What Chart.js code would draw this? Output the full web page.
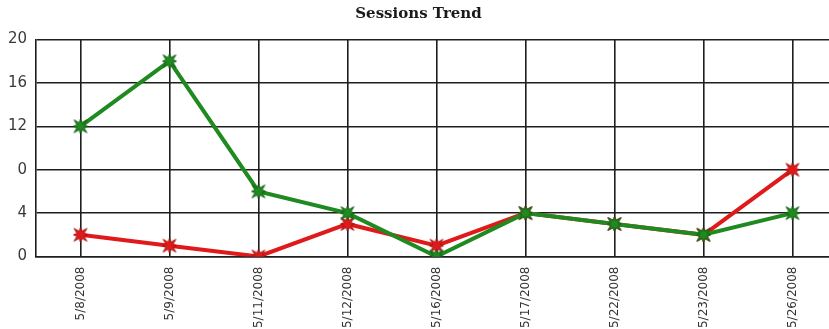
<!DOCTYPE html>
<html>
<head>
<meta charset="utf-8">
<title>Sessions Trend</title>
<script src="https://cdn.jsdelivr.net/npm/chart.js@4/dist/chart.umd.min.js"></script>
<style>
  html, body { margin: 0; padding: 0; overflow: hidden; background: #ffffff; }
  #wrap { position: relative; width: 858px; height: 329px; }
</style>
</head>
<body>
<div id="wrap"><canvas id="chart"></canvas></div>
<script>
// Session dates along the x axis
const categories = ['5/8/2008', '5/9/2008', '5/11/2008', '5/12/2008', '5/16/2008',
                    '5/17/2008', '5/22/2008', '5/23/2008', '5/26/2008'];

// Session counts per date
const greenSessions = [12, 18, 6, 4, 0, 4, 3, 2, 4];
const redSessions   = [2, 1, 0, 3, 1, 4, 3, 2, 8];

// Y axis ticks and the labels printed beside them
const yTickValues = [0, 4, 8, 12, 16, 20];
const yTickLabels = ['0', '4', '0', '12', '16', '20'];

const GREEN = '#1f8a1f';
const RED = '#e01a1a';

// Small filled star used as the point marker
function starMarker(fill, edge) {
  const size = 22;
  const c = document.createElement('canvas');
  c.width = size; c.height = size;
  const g = c.getContext('2d');
  const cx = size / 2, cy = size / 2;
  const spikes = 8;
  g.beginPath();
  for (let i = 0; i < spikes * 2; i++) {
    const a = (Math.PI / spikes) * i + Math.PI / 4;
    let r;
    if (i % 2 === 1) r = 3.8;
    else r = (i % 4 === 0) ? 9 : 7;
    const x = cx + Math.cos(a) * r, y = cy + Math.sin(a) * r;
    if (i === 0) g.moveTo(x, y); else g.lineTo(x, y);
  }
  g.closePath();
  g.fillStyle = fill;
  g.fill();
  g.lineWidth = 1;
  g.strokeStyle = edge;
  g.stroke();
  return c;
}

const gridColor = '#1e1e1e';

new Chart(document.getElementById('chart'), {
  type: 'line',
  data: {
    labels: categories,
    datasets: [
      {
        label: 'Green',
        data: greenSessions,
        borderColor: GREEN,
        backgroundColor: GREEN,
        borderWidth: 4,
        pointStyle: starMarker(GREEN, '#145f14'),
        pointRadius: 10,
        tension: 0
      },
      {
        label: 'Red',
        data: redSessions,
        borderColor: RED,
        backgroundColor: RED,
        borderWidth: 4,
        pointStyle: starMarker(RED, '#a81414'),
        pointRadius: 10,
        tension: 0
      }
    ]
  },
  options: {
    responsive: true,
    maintainAspectRatio: false,
    animation: false,
    layout: { padding: { left: 0, right: 21, top: 0, bottom: 0 } },
    plugins: {
      legend: { display: false },
      tooltip: { enabled: false },
      title: {
        display: true,
        text: 'Sessions Trend',
        color: '#1a1a1a',
        font: { family: 'DejaVu Serif', weight: 'bold', size: 15 },
        padding: { top: 5, bottom: 16.5 }
      }
    },
    scales: {
      x: {
        type: 'category',
        offset: true,
        grid: { color: gridColor, lineWidth: 1.6, drawTicks: false },
        border: { color: gridColor, width: 1.6 },
        ticks: {
          autoSkip: false,
          minRotation: 90,
          maxRotation: 90,
          padding: 10,
          color: '#333333',
          font: { family: 'DejaVu Sans', size: 12 }
        },
        afterFit: (s) => { s.height = 72.5; }
      },
      y: {
        min: 0,
        max: 20,
        afterBuildTicks: (s) => { s.ticks = yTickValues.map(v => ({ value: v })); },
        grid: { color: gridColor, lineWidth: 1.6, drawTicks: false },
        border: { color: gridColor, width: 1.6 },
        ticks: {
          padding: 9,
          color: '#3a3a3a',
          font: { family: 'DejaVu Sans', size: 15 },
          callback: (v) => yTickLabels[yTickValues.indexOf(v)]
        },
        afterFit: (s) => { s.width = 36; }
      }
    }
  }
});
</script>
</body>
</html>
